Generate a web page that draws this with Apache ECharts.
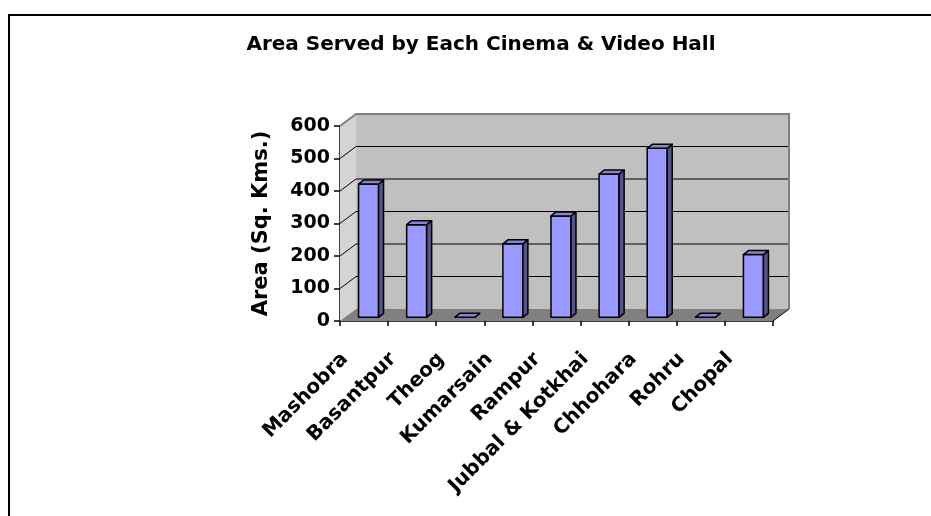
<!DOCTYPE html>
<html><head><meta charset="utf-8">
<script src="https://cdn.jsdelivr.net/npm/echarts@6/dist/echarts.min.js"></script>
<style>html,body{margin:0;padding:0;background:#fff}#c{width:931px;height:516px}</style>
</head><body><div id="c"></div>
<script>
// ---- data ----
const categories = ['Mashobra', 'Basantpur', 'Theog', 'Kumarsain', 'Rampur', 'Jubbal & Kotkhai', 'Chhohara', 'Rohru', 'Chopal'];
const areaValues = [410, 285, 0, 226, 312, 441, 520, 0, 193];
const yMin = 0, yMax = 600, yStep = 100;
const titleText = 'Area Served by Each Cinema & Video Hall';
const yAxisTitle = 'Area (Sq. Kms.)';

// ---- styling constants ----
const FONT = 'DejaVu Sans';
const DX = 16, DY = 12;              // wall depth
const BAR_OFF_X = 4.5, BAR_OFF_Y = 3.7, BAR_W = 20, BAR_DX = 5, BAR_DY = 4;

const chart = echarts.init(document.getElementById('c'), null, { renderer: 'canvas' });

function renderWalls(params, api) {
  const cs = params.coordSys;
  const x0 = cs.x, x1 = cs.x + cs.width, yt = cs.y, yb = cs.y + cs.height;
  const ch = [];
  ch.push({ type: 'polygon', shape: { points: [[x0, yt], [x0 + DX, yt - DY], [x0 + DX, yb - DY], [x0, yb]] }, style: { fill: '#D4D4D4' } });
  ch.push({ type: 'rect', shape: { x: x0 + DX, y: yt - DY, width: cs.width, height: cs.height }, style: { fill: '#C0C0C0' } });
  ch.push({ type: 'polygon', shape: { points: [[x0, yb], [x1, yb], [x1 + DX, yb - DY], [x0 + DX, yb - DY]] }, style: { fill: '#808080' } });
  for (let v = yMin + yStep; v < yMax; v += yStep) {
    const y = api.coord([0, v])[1];
    ch.push({ type: 'line', shape: { x1: x0 + DX, y1: y - DY, x2: x1 + DX, y2: y - DY }, style: { stroke: '#000', lineWidth: 1 } });
    ch.push({ type: 'line', shape: { x1: x0, y1: y, x2: x0 + DX, y2: y - DY }, style: { stroke: '#000', lineWidth: 1 } });
  }
  ch.push({ type: 'polyline', shape: { points: [[x0, yt], [x0 + DX, yt - DY], [x1 + DX, yt - DY], [x1 + DX, yb - DY]] }, style: { stroke: '#808080', lineWidth: 2, fill: null } });
  ch.push({ type: 'line', shape: { x1: x1, y1: yb, x2: x1 + DX, y2: yb - DY }, style: { stroke: '#000', lineWidth: 1 } });
  return { type: 'group', children: ch };
}

function renderBar(params, api) {
  const idx = api.value(0), v = api.value(1);
  const top = api.coord([idx, v]), base = api.coord([idx, 0]);
  const xl = top[0] + BAR_OFF_X - BAR_W / 2, xr = xl + BAR_W;
  const yt = top[1] - BAR_OFF_Y, yb = base[1] - BAR_OFF_Y;
  const st = { stroke: '#000', lineWidth: 1.5, lineJoin: 'round' };
  const ch = [];
  if (yb - yt > 0.5) {
    ch.push({ type: 'rect', shape: { x: xl, y: yt, width: BAR_W, height: yb - yt }, style: Object.assign({ fill: '#9999FF' }, st) });
    ch.push({ type: 'polygon', shape: { points: [[xr, yt], [xr + BAR_DX, yt - BAR_DY], [xr + BAR_DX, yb - BAR_DY], [xr, yb]] }, style: Object.assign({ fill: '#545487' }, st) });
  }
  ch.push({ type: 'polygon', shape: { points: [[xl, yt], [xl + BAR_DX, yt - BAR_DY], [xr + BAR_DX, yt - BAR_DY], [xr, yt]] }, style: Object.assign({ fill: '#8585DD' }, st) });
  return { type: 'group', children: ch };
}

const option = {
  backgroundColor: '#fff',
  animation: false,
  graphic: [
    { type: 'rect', z: 0, shape: { x: 9, y: 15, width: 1000, height: 600 }, style: { fill: null, stroke: '#000', lineWidth: 2 } },
    { type: 'text', z: 10, x: 481, y: 35, style: { text: titleText, font: 'bold 20px "' + FONT + '"', fill: '#000', align: 'center', verticalAlign: 'top' } }
  ],
  grid: { left: 340, right: 158, top: 126, bottom: 195, containLabel: false },
  xAxis: {
    type: 'category', data: categories, boundaryGap: true,
    axisLine: { show: true, lineStyle: { color: '#000', width: 1.5 } },
    axisTick: { show: true, length: 5, lineStyle: { color: '#000', width: 1.5 } },
    axisLabel: { interval: 0, rotate: 45, margin: 16, padding: [0, 27, 0, 0], color: '#000', fontFamily: FONT, fontWeight: 'bold', fontSize: 20 },
    splitLine: { show: false }
  },
  yAxis: {
    type: 'value', min: yMin, max: yMax, interval: yStep,
    name: yAxisTitle, nameLocation: 'middle', nameGap: 68,
    nameTextStyle: { color: '#000', fontFamily: FONT, fontWeight: 'bold', fontSize: 21 },
    axisLine: { show: true, lineStyle: { color: '#000', width: 1.5 } },
    axisTick: { show: true, length: 6, lineStyle: { color: '#000', width: 1.5 } },
    axisLabel: { margin: 10, color: '#000', fontFamily: FONT, fontWeight: 'bold', fontSize: 19 },
    splitLine: { show: false }
  },
  series: [
    { type: 'custom', z: 1, silent: true, renderItem: renderWalls, data: [[0, 0]], clip: false },
    { type: 'custom', z: 3, renderItem: renderBar, data: categories.map((c, i) => [i, areaValues[i]]), clip: false }
  ]
};
chart.setOption(option);
</script>
</body></html>
